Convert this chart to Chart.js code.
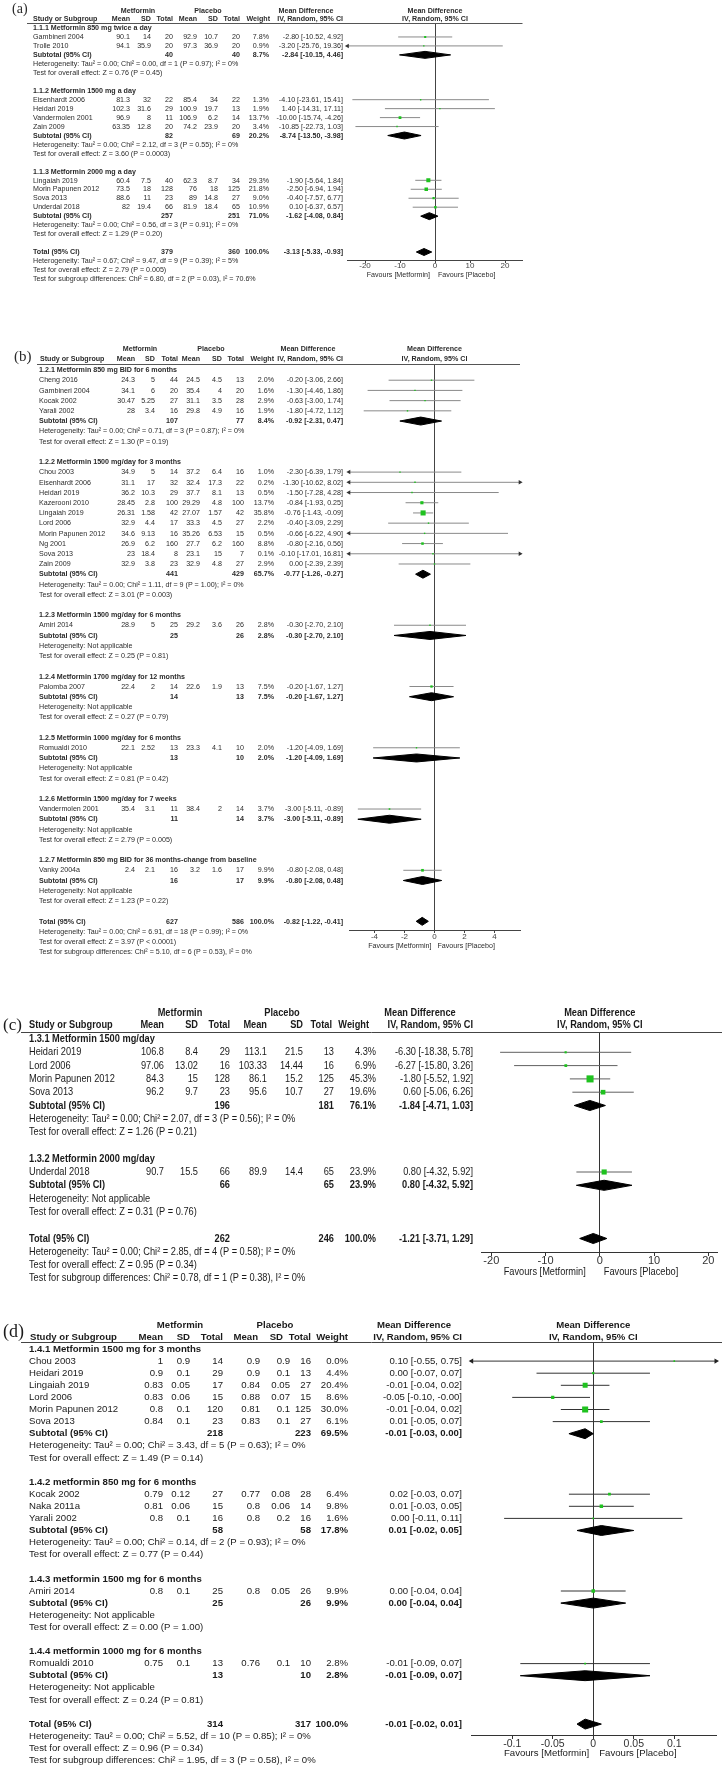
<!DOCTYPE html>
<html>
<head>
<meta charset="utf-8">
<script src="https://cdn.jsdelivr.net/npm/chart.js@4.4.0/dist/chart.umd.min.js"></script>
<style>
  body { margin: 0; background: #fff; }
  #wrap { position: relative; width: 722px; height: 1768px; overflow: hidden; background: #fff; }
  #wrap canvas { position: absolute; left: 0; }
</style>
</head>
<body>
<div id="wrap">
  <canvas id="pa" width="722" height="292" style="top:0px"></canvas>
  <canvas id="pb" width="722" height="630" style="top:335px"></canvas>
  <canvas id="pc" width="722" height="300" style="top:1000px"></canvas>
  <canvas id="pd" width="722" height="458" style="top:1310px"></canvas>
</div>
<script>
// ---------- (a) ----------
const A_GROUPS = ['1.1.1 Metformin 850 mg twice a day', '1.1.2 Metformin 1500 mg a day', '1.1.3 Metformin 2000 mg a day'];
const A_STUDY = ['Gambineri 2004', 'Trolle 2010', 'Eisenhardt 2006', 'Heidari 2019', 'Vandermolen 2001', 'Zain 2009', 'Lingaiah 2019', 'Morin Papunen 2012', 'Sova 2013', 'Underdal 2018'];
const A_GRP = [0, 0, 1, 1, 1, 1, 2, 2, 2, 2];
const A_MET_MEAN = [90.1, 94.1, 81.3, 102.3, 96.9, 63.35, 60.4, 73.5, 88.6, 82];
const A_MET_SD = [14, 35.9, 32, 31.6, 8, 12.8, 7.5, 18, 11, 19.4];
const A_MET_N = [20, 20, 22, 29, 11, 20, 40, 128, 23, 66];
const A_PLA_MEAN = [92.9, 97.3, 85.4, 100.9, 106.9, 74.2, 62.3, 76, 89, 81.9];
const A_PLA_SD = [10.7, 36.9, 34, 19.7, 6.2, 23.9, 8.7, 18, 14.8, 18.4];
const A_PLA_N = [20, 20, 22, 13, 14, 20, 34, 125, 27, 65];
const A_WEIGHT = [7.8, 0.9, 1.3, 1.9, 13.7, 3.4, 29.3, 21.8, 9.0, 10.9];
const A_MD = [-2.80, -3.20, -4.10, 1.40, -10.00, -10.85, -1.90, -2.50, -0.40, 0.10];
const A_LO = [-10.52, -25.76, -23.61, -14.31, -15.74, -22.73, -5.64, -6.94, -7.57, -6.37];
const A_HI = [4.92, 19.36, 15.41, 17.11, -4.26, 1.03, 1.84, 1.94, 6.77, 6.57];
// pooled rows: one per subgroup, last one is the overall total
const A_POOL_MET_N = [40, 82, 257, 379];
const A_POOL_PLA_N = [40, 69, 251, 360];
const A_POOL_WEIGHT = [8.7, 20.2, 71.0, 100.0];
const A_POOL_MD = [-2.84, -8.74, -1.62, -3.13];
const A_POOL_LO = [-10.15, -13.50, -4.08, -5.33];
const A_POOL_HI = [4.46, -3.98, 0.84, -0.93];
const A_HET = ['Tau² = 0.00; Chi² = 0.00, df = 1 (P = 0.97); I² = 0%', 'Tau² = 0.00; Chi² = 2.12, df = 3 (P = 0.55); I² = 0%',
  'Tau² = 0.00; Chi² = 0.56, df = 3 (P = 0.91); I² = 0%', 'Tau² = 0.67; Chi² = 9.47, df = 9 (P = 0.39); I² = 5%'];
const A_Z = ['Z = 0.76 (P = 0.45)', 'Z = 3.60 (P = 0.0003)', 'Z = 1.29 (P = 0.20)', 'Z = 2.79 (P = 0.005)'];
const A_SUBGROUP_TEST = 'Chi² = 6.80, df = 2 (P = 0.03), I² = 70.6%';
const A_TICKS = [-20, -10, 0, 10, 20];
const A_TICK_LABELS = ['-20', '-10', '0', '10', '20'];

// ---------- (b) ----------
const B_GROUPS = ['1.2.1 Metformin 850 mg BID for 6 months', '1.2.2 Metformin 1500 mg/day for 3 months', '1.2.3 Metformin 1500 mg/day for 6 months',
  '1.2.4 Metformin 1700 mg/day for 12 months', '1.2.5 Metformin 1000 mg/day for 6 months', '1.2.6 Metformin 1500 mg/day for 7 weeks',
  '1.2.7 Metformin 850 mg BID for 36 months-change from baseline'];
const B_STUDY = ['Cheng 2016', 'Gambineri 2004', 'Kocak 2002', 'Yarali 2002', 'Chou 2003', 'Eisenhardt 2006', 'Heidari 2019', 'Kazerooni 2010',
  'Lingaiah 2019', 'Lord 2006', 'Morin Papunen 2012', 'Ng 2001', 'Sova 2013', 'Zain 2009', 'Amiri 2014', 'Palomba 2007', 'Romualdi 2010',
  'Vandermolen 2001', 'Vanky 2004a'];
const B_GRP = [0, 0, 0, 0, 1, 1, 1, 1, 1, 1, 1, 1, 1, 1, 2, 3, 4, 5, 6];
const B_MET_MEAN = [24.3, 34.1, 30.47, 28, 34.9, 31.1, 36.2, 28.45, 26.31, 32.9, 34.6, 26.9, 23, 32.9, 28.9, 22.4, 22.1, 35.4, 2.4];
const B_MET_SD = [5, 6, 5.25, 3.4, 5, 17, 10.3, 2.8, 1.58, 4.4, 9.13, 6.2, 18.4, 3.8, 5, 2, 2.52, 3.1, 2.1];
const B_MET_N = [44, 20, 27, 16, 14, 32, 29, 100, 42, 17, 16, 160, 8, 23, 25, 14, 13, 11, 16];
const B_PLA_MEAN = [24.5, 35.4, 31.1, 29.8, 37.2, 32.4, 37.7, 29.29, 27.07, 33.3, 35.26, 27.7, 23.1, 32.9, 29.2, 22.6, 23.3, 38.4, 3.2];
const B_PLA_SD = [4.5, 4, 3.5, 4.9, 6.4, 17.3, 8.1, 4.8, 1.57, 4.5, 6.53, 6.2, 15, 4.8, 3.6, 1.9, 4.1, 2, 1.6];
const B_PLA_N = [13, 20, 28, 16, 16, 22, 13, 100, 42, 27, 15, 160, 7, 27, 26, 13, 10, 14, 17];
const B_WEIGHT = [2.0, 1.6, 2.9, 1.9, 1.0, 0.2, 0.5, 13.7, 35.8, 2.2, 0.5, 8.8, 0.1, 2.9, 2.8, 7.5, 2.0, 3.7, 9.9];
const B_MD = [-0.20, -1.30, -0.63, -1.80, -2.30, -1.30, -1.50, -0.84, -0.76, -0.40, -0.66, -0.80, -0.10, 0.00, -0.30, -0.20, -1.20, -3.00, -0.80];
const B_LO = [-3.06, -4.46, -3.00, -4.72, -6.39, -10.62, -7.28, -1.93, -1.43, -3.09, -6.22, -2.16, -17.01, -2.39, -2.70, -1.67, -4.09, -5.11, -2.08];
const B_HI = [2.66, 1.86, 1.74, 1.12, 1.79, 8.02, 4.28, 0.25, -0.09, 2.29, 4.90, 0.56, 16.81, 2.39, 2.10, 1.27, 1.69, -0.89, 0.48];
const B_POOL_MET_N = [107, 441, 25, 14, 13, 11, 16, 627];
const B_POOL_PLA_N = [77, 429, 26, 13, 10, 14, 17, 586];
const B_POOL_WEIGHT = [8.4, 65.7, 2.8, 7.5, 2.0, 3.7, 9.9, 100.0];
const B_POOL_MD = [-0.92, -0.77, -0.30, -0.20, -1.20, -3.00, -0.80, -0.82];
const B_POOL_LO = [-2.31, -1.26, -2.70, -1.67, -4.09, -5.11, -2.08, -1.22];
const B_POOL_HI = [0.47, -0.27, 2.10, 1.27, 1.69, -0.89, 0.48, -0.41];
const B_HET = ['Tau² = 0.00; Chi² = 0.71, df = 3 (P = 0.87); I² = 0%', 'Tau² = 0.00; Chi² = 1.11, df = 9 (P = 1.00); I² = 0%',
  'Not applicable', 'Not applicable', 'Not applicable', 'Not applicable', 'Not applicable',
  'Tau² = 0.00; Chi² = 6.91, df = 18 (P = 0.99); I² = 0%'];
const B_Z = ['Z = 1.30 (P = 0.19)', 'Z = 3.01 (P = 0.003)', 'Z = 0.25 (P = 0.81)', 'Z = 0.27 (P = 0.79)', 'Z = 0.81 (P = 0.42)',
  'Z = 2.79 (P = 0.005)', 'Z = 1.23 (P = 0.22)', 'Z = 3.97 (P < 0.0001)'];
const B_SUBGROUP_TEST = 'Chi² = 5.10, df = 6 (P = 0.53), I² = 0%';
const B_TICKS = [-4, -2, 0, 2, 4];
const B_TICK_LABELS = ['-4', '-2', '0', '2', '4'];

// ---------- (c) ----------
const C_GROUPS = ['1.3.1 Metformin 1500 mg/day', '1.3.2 Metformin 2000 mg/day'];
const C_STUDY = ['Heidari 2019', 'Lord 2006', 'Morin Papunen 2012', 'Sova 2013', 'Underdal 2018'];
const C_GRP = [0, 0, 0, 0, 1];
const C_MET_MEAN = [106.8, 97.06, 84.3, 96.2, 90.7];
const C_MET_SD = [8.4, 13.02, 15, 9.7, 15.5];
const C_MET_N = [29, 16, 128, 23, 66];
const C_PLA_MEAN = [113.1, 103.33, 86.1, 95.6, 89.9];
const C_PLA_SD = [21.5, 14.44, 15.2, 10.7, 14.4];
const C_PLA_N = [13, 16, 125, 27, 65];
const C_WEIGHT = [4.3, 6.9, 45.3, 19.6, 23.9];
const C_MD = [-6.30, -6.27, -1.80, 0.60, 0.80];
const C_LO = [-18.38, -15.80, -5.52, -5.06, -4.32];
const C_HI = [5.78, 3.26, 1.92, 6.26, 5.92];
const C_POOL_MET_N = [196, 66, 262];
const C_POOL_PLA_N = [181, 65, 246];
const C_POOL_WEIGHT = [76.1, 23.9, 100.0];
const C_POOL_MD = [-1.84, 0.80, -1.21];
const C_POOL_LO = [-4.71, -4.32, -3.71];
const C_POOL_HI = [1.03, 5.92, 1.29];
const C_HET = ['Tau² = 0.00; Chi² = 2.07, df = 3 (P = 0.56); I² = 0%', 'Not applicable', 'Tau² = 0.00; Chi² = 2.85, df = 4 (P = 0.58); I² = 0%'];
const C_Z = ['Z = 1.26 (P = 0.21)', 'Z = 0.31 (P = 0.76)', 'Z = 0.95 (P = 0.34)'];
const C_SUBGROUP_TEST = 'Chi² = 0.78, df = 1 (P = 0.38), I² = 0%';
const C_TICKS = [-20, -10, 0, 10, 20];
const C_TICK_LABELS = ['-20', '-10', '0', '10', '20'];

// ---------- (d) ----------
const D_GROUPS = ['1.4.1 Metformin 1500 mg for 3 months', '1.4.2 metformin 850 mg for 6 months', '1.4.3 metformin 1500 mg for 6 months', '1.4.4 metformin 1000 mg for 6 months'];
const D_STUDY = ['Chou 2003', 'Heidari 2019', 'Lingaiah 2019', 'Lord 2006', 'Morin Papunen 2012', 'Sova 2013', 'Kocak 2002', 'Naka 2011a', 'Yarali 2002', 'Amiri 2014', 'Romualdi 2010'];
const D_GRP = [0, 0, 0, 0, 0, 0, 1, 1, 1, 2, 3];
const D_MET_MEAN = [1, 0.9, 0.83, 0.83, 0.8, 0.84, 0.79, 0.81, 0.8, 0.8, 0.75];
const D_MET_SD = [0.9, 0.1, 0.05, 0.06, 0.1, 0.1, 0.12, 0.06, 0.1, 0.1, 0.1];
const D_MET_N = [14, 29, 17, 15, 120, 23, 27, 15, 16, 25, 13];
const D_PLA_MEAN = [0.9, 0.9, 0.84, 0.88, 0.81, 0.83, 0.77, 0.8, 0.8, 0.8, 0.76];
const D_PLA_SD = [0.9, 0.1, 0.05, 0.07, 0.1, 0.1, 0.08, 0.06, 0.2, 0.05, 0.1];
const D_PLA_N = [16, 13, 27, 15, 125, 27, 28, 14, 16, 26, 10];
const D_WEIGHT = [0.0, 4.4, 20.4, 8.6, 30.0, 6.1, 6.4, 9.8, 1.6, 9.9, 2.8];
const D_MD = [0.10, 0.00, -0.01, -0.05, -0.01, 0.01, 0.02, 0.01, 0.00, 0.00, -0.01];
const D_LO = [-0.55, -0.07, -0.04, -0.10, -0.04, -0.05, -0.03, -0.03, -0.11, -0.04, -0.09];
const D_HI = [0.75, 0.07, 0.02, -0.004, 0.02, 0.07, 0.07, 0.05, 0.11, 0.04, 0.07];
const D_POOL_MET_N = [218, 58, 25, 13, 314];
const D_POOL_PLA_N = [223, 58, 26, 10, 317];
const D_POOL_WEIGHT = [69.5, 17.8, 9.9, 2.8, 100.0];
const D_POOL_MD = [-0.01, 0.01, 0.00, -0.01, -0.01];
const D_POOL_LO = [-0.03, -0.02, -0.04, -0.09, -0.02];
const D_POOL_HI = [0.00, 0.05, 0.04, 0.07, 0.01];
const D_HET = ['Tau² = 0.00; Chi² = 3.43, df = 5 (P = 0.63); I² = 0%', 'Tau² = 0.00; Chi² = 0.14, df = 2 (P = 0.93); I² = 0%',
  'Not applicable', 'Not applicable', 'Tau² = 0.00; Chi² = 5.52, df = 10 (P = 0.85); I² = 0%'];
const D_Z = ['Z = 1.49 (P = 0.14)', 'Z = 0.77 (P = 0.44)', 'Z = 0.00 (P = 1.00)', 'Z = 0.24 (P = 0.81)', 'Z = 0.96 (P = 0.34)'];
const D_SUBGROUP_TEST = 'Chi² = 1.95, df = 3 (P = 0.58), I² = 0%';
const D_TICKS = [-0.1, -0.05, 0, 0.05, 0.1];
const D_TICK_LABELS = ['-0.1', '-0.05', '0', '0.05', '0.1'];

const SANS = '"Liberation Sans", Arial, sans-serif';
const SERIF = '"Liberation Serif", "Times New Roman", serif';

function ciText(md, lo, hi) {
  return md.toFixed(2) + ' [' + lo.toFixed(2) + ', ' + hi.toFixed(2) + ']';
}

// one forest plot panel: marks through chart.js, the table text through a plugin that reads the y scale
function makeForest(id, d, L) {
  const rows = [], squares = [], whiskers = [], arrows = [], diamonds = [];
  const nG = d.groups.length;
  let line = 0;

  function pooled(k) {
    const ln = line++;
    rows.push({ line: ln, kind: 'pool', k: k });
    diamonds.push([
      { x: d.poolLo[k], y: ln }, { x: d.poolMd[k], y: ln - L.dia },
      { x: d.poolHi[k], y: ln }, { x: d.poolMd[k], y: ln + L.dia },
      { x: d.poolLo[k], y: ln }
    ]);
  }

  for (let g = 0; g < nG; g++) {
    rows.push({ line: line++, kind: 'group', text: d.groups[g] });
    d.study.forEach((s, i) => {
      if (d.grp[i] !== g) return;
      const ln = line++;
      rows.push({ line: ln, kind: 'study', i: i });
      squares.push({ x: d.md[i], y: ln, w: d.weight[i] });
      whiskers.push({ x: d.lo[i], y: ln }, { x: d.hi[i], y: ln }, { x: d.hi[i], y: null });
      if (d.lo[i] < L.xMin) arrows.push({ x: L.xMin, y: ln, rot: -90 });
      if (d.hi[i] > L.xMax) arrows.push({ x: L.xMax, y: ln, rot: 90 });
    });
    pooled(g);
    rows.push({ line: line++, kind: 'text', text: 'Heterogeneity: ' + d.het[g] });
    rows.push({ line: line++, kind: 'text', text: 'Test for overall effect: ' + d.z[g] });
    line++;
  }
  pooled(nG);
  rows.push({ line: line++, kind: 'text', text: 'Heterogeneity: ' + d.het[nG] });
  rows.push({ line: line++, kind: 'text', text: 'Test for overall effect: ' + d.z[nG] });
  rows.push({ line: line++, kind: 'text', text: 'Test for subgroup differences: ' + d.subgroupTest });

  const yMin = (L.headY - L.line0) / L.lineH;
  const yMax = (L.axisY - L.line0) / L.lineH;
  const canvas = document.getElementById(id);
  const H = canvas.height;

  const table = {
    id: 'table',
    afterDraw(chart) {
      const ctx = chart.ctx, ca = chart.chartArea;
      const Y = v => chart.scales.y.getPixelForValue(v);
      const zero = chart.scales.x.getPixelForValue(0);
      function put(s, x, y, align, bold, size, family) {
        ctx.save();
        ctx.font = (bold ? 'bold ' : '') + (size || L.fs) + 'px ' + (family || SANS);
        ctx.fillStyle = L.ink;
        ctx.textAlign = align;
        ctx.textBaseline = 'middle';
        ctx.translate(x, y);
        ctx.scale(family ? 1 : L.sx, 1);
        ctx.fillText(s, 0, 0);
        ctx.restore();
      }
      const c = L.cols, hc = L.headCols;
      put(L.label, L.labX, L.labY, 'left', false, L.labFs, SERIF);
      const gy = Y(L.gLine), hy = Y(L.hLine);
      put('Metformin', L.cMet, gy, 'center', true);
      put('Placebo', L.cPla, gy, 'center', true);
      put('Mean Difference', L.cMD, gy, 'center', true);
      put('Mean Difference', zero, gy, 'center', true);
      put('Study or Subgroup', L.x0h, hy, 'left', true);
      ['Mean', 'SD', 'Total', 'Mean', 'SD', 'Total', 'Weight', 'IV, Random, 95% CI']
        .forEach((h, j) => put(h, hc[j], hy, 'right', true));
      put('IV, Random, 95% CI', zero, hy, 'center', true);
      // rule under the header
      ctx.save();
      ctx.strokeStyle = L.rule;
      ctx.lineWidth = 1;
      ctx.beginPath();
      const ry = Math.round(ca.top) + 0.5;
      ctx.moveTo(L.ruleL, ry);
      ctx.lineTo(L.ruleR, ry);
      ctx.stroke();
      ctx.restore();

      rows.forEach(r => {
        const y = Y(r.line);
        if (r.kind === 'group') put(r.text, L.x0, y, 'left', true);
        else if (r.kind === 'text') put(r.text, L.x0, y, 'left', false);
        else if (r.kind === 'study') {
          const i = r.i;
          put(d.study[i], L.x0, y, 'left', false);
          [d.metMean[i], d.metSd[i], d.metN[i], d.plaMean[i], d.plaSd[i], d.plaN[i]].forEach((v, j) => put(String(v), c[j], y, 'right', false));
          put(d.weight[i].toFixed(1) + '%', c[6], y, 'right', false);
          put(ciText(d.md[i], d.lo[i], d.hi[i]), c[7], y, 'right', false);
        } else if (r.kind === 'pool') {
          const k = r.k;
          put(k < nG ? 'Subtotal (95% CI)' : 'Total (95% CI)', L.x0, y, 'left', true);
          put(String(d.poolMetN[k]), c[2], y, 'right', true);
          put(String(d.poolPlaN[k]), c[5], y, 'right', true);
          put(d.poolWeight[k].toFixed(1) + '%', c[6], y, 'right', true);
          put(ciText(d.poolMd[k], d.poolLo[k], d.poolHi[k]), c[7], y, 'right', true);
        }
      });
      const fy = ca.bottom + L.favDy;
      put('Favours [Metformin]', zero - L.favGapL, fy, 'right', false);
      put('Favours [Placebo]', zero + L.favGapR, fy, 'left', false);
    }
  };

  const datasets = [
    {
      type: 'scatter', data: squares, order: 0,
      pointStyle: 'rect', borderWidth: 0, backgroundColor: L.square,
      pointRadius: ctx => Math.max(L.sqMin, L.sq * Math.sqrt(ctx.raw ? ctx.raw.w : 0)) / Math.SQRT2
    },
    {
      type: 'scatter', data: arrows, order: 1, clip: false,
      pointStyle: 'triangle', pointRadius: L.arrowR, borderWidth: 0,
      backgroundColor: L.arrow, rotation: ctx => (ctx.raw ? ctx.raw.rot : 0)
    },
    {
      type: 'line', data: whiskers, order: 3, borderColor: L.ci, borderWidth: 1,
      pointRadius: 0, spanGaps: false, fill: false, tension: 0
    }
  ];
  diamonds.forEach(pts => datasets.push({
    type: 'line', data: pts, order: 2, borderColor: '#000', backgroundColor: '#000',
    borderWidth: 1, pointRadius: 0, fill: 'shape', tension: 0
  }));

  return new Chart(canvas, {
    type: 'scatter',
    data: { datasets: datasets },
    options: {
      responsive: false,
      maintainAspectRatio: false,
      devicePixelRatio: 1,
      animation: false,
      events: [],
      layout: { padding: { left: L.plotL, right: 722 - L.plotR, top: L.headY, bottom: H - L.axisY - L.axisH } },
      plugins: { legend: { display: false }, tooltip: { enabled: false }, title: { display: false } },
      scales: {
        x: {
          type: 'linear', position: 'bottom', min: L.xMin, max: L.xMax,
          afterBuildTicks: s => { s.ticks = d.ticks.map(v => ({ value: v })); },
          afterFit: s => { s.height = L.axisH; },
          ticks: {
            autoSkip: false, maxRotation: 0, color: L.tickInk,
            font: { family: SANS, size: L.tickFs },
            padding: L.tickDy - L.tickLen - L.tickFs * 0.6,
            callback: (v, i) => d.tickLabels[i]
          },
          grid: {
            color: ctx => (ctx.tick && ctx.tick.value === 0) ? L.axis : 'rgba(0,0,0,0)',
            tickColor: L.axis, tickLength: L.tickLen, lineWidth: 1
          },
          border: { display: true, color: L.axis, width: 1 }
        },
        y: { type: 'linear', display: false, reverse: true, min: yMin, max: yMax }
      }
    },
    plugins: [table]
  });
}

makeForest('pa', {
  groups: A_GROUPS, study: A_STUDY, grp: A_GRP, metMean: A_MET_MEAN, metSd: A_MET_SD, metN: A_MET_N,
  plaMean: A_PLA_MEAN, plaSd: A_PLA_SD, plaN: A_PLA_N, weight: A_WEIGHT, md: A_MD, lo: A_LO, hi: A_HI,
  poolMetN: A_POOL_MET_N, poolPlaN: A_POOL_PLA_N, poolWeight: A_POOL_WEIGHT, poolMd: A_POOL_MD, poolLo: A_POOL_LO, poolHi: A_POOL_HI,
  het: A_HET, z: A_Z, subgroupTest: A_SUBGROUP_TEST, ticks: A_TICKS, tickLabels: A_TICK_LABELS
}, {
  plotL: 347.5, plotR: 522.5, xMin: -25, xMax: 25,
  line0: 28, lineH: 8.96, headY: 23, axisY: 260, axisH: 30,
  gLine: -1.9, hLine: -1.0, dia: 0.39,
  fs: 8, sx: 0.89, ink: '#2b2b2b',
  x0: 33, x0h: 33, cols: [130, 151, 173, 197, 218, 240, 269, 343],
  headCols: [130, 151, 173, 197, 218, 240, 270, 343],
  cMet: 138, cPla: 208, cMD: 306,
  ruleL: 27, ruleR: 522.5, rule: '#555',
  label: '(a)', labX: 12, labY: 9, labFs: 14,
  favDy: 15, favGapL: 5, favGapR: 3,
  tickFs: 8, tickLen: 3, tickDy: 6, tickInk: '#444',
  axis: '#444', ci: '#8a8a8a', square: '#1fc21f', arrow: '#333', arrowR: 2.6, sq: 0.75, sqMin: 1.4
});

makeForest('pb', {
  groups: B_GROUPS, study: B_STUDY, grp: B_GRP, metMean: B_MET_MEAN, metSd: B_MET_SD, metN: B_MET_N,
  plaMean: B_PLA_MEAN, plaSd: B_PLA_SD, plaN: B_PLA_N, weight: B_WEIGHT, md: B_MD, lo: B_LO, hi: B_HI,
  poolMetN: B_POOL_MET_N, poolPlaN: B_POOL_PLA_N, poolWeight: B_POOL_WEIGHT, poolMd: B_POOL_MD, poolLo: B_POOL_LO, poolHi: B_POOL_HI,
  het: B_HET, z: B_Z, subgroupTest: B_SUBGROUP_TEST, ticks: B_TICKS, tickLabels: B_TICK_LABELS
}, {
  plotL: 349, plotR: 520, xMin: -5.7, xMax: 5.7,
  line0: 35, lineH: 10.21, headY: 29, axisY: 595, axisH: 30,
  gLine: -2.06, hLine: -1.08, dia: 0.39,
  fs: 8, sx: 0.89, ink: '#2b2b2b',
  x0: 39, x0h: 40, cols: [135, 155, 178, 200, 222, 244, 274, 343],
  headCols: [135, 155, 178, 200, 222, 244, 274, 343],
  cMet: 140, cPla: 211, cMD: 308,
  ruleL: 37, ruleR: 520, rule: '#555',
  label: '(b)', labX: 14, labY: 22, labFs: 15,
  favDy: 16, favGapL: 3, favGapR: 3,
  tickFs: 8, tickLen: 3, tickDy: 7, tickInk: '#444',
  axis: '#444', ci: '#8a8a8a', square: '#1fc21f', arrow: '#333', arrowR: 2.6, sq: 0.85, sqMin: 1.4
});

makeForest('pc', {
  groups: C_GROUPS, study: C_STUDY, grp: C_GRP, metMean: C_MET_MEAN, metSd: C_MET_SD, metN: C_MET_N,
  plaMean: C_PLA_MEAN, plaSd: C_PLA_SD, plaN: C_PLA_N, weight: C_WEIGHT, md: C_MD, lo: C_LO, hi: C_HI,
  poolMetN: C_POOL_MET_N, poolPlaN: C_POOL_PLA_N, poolWeight: C_POOL_WEIGHT, poolMd: C_POOL_MD, poolLo: C_POOL_LO, poolHi: C_POOL_HI,
  het: C_HET, z: C_Z, subgroupTest: C_SUBGROUP_TEST, ticks: C_TICKS, tickLabels: C_TICK_LABELS
}, {
  plotL: 481, plotR: 719, xMin: -21.9, xMax: 21.6,
  line0: 39, lineH: 13.3, headY: 32, axisY: 252, axisH: 30,
  gLine: -1.95, hLine: -1.05, dia: 0.38,
  fs: 11, sx: 0.84, ink: '#1a1a1a',
  x0: 29, x0h: 29, cols: [164, 198, 230, 267, 303, 334, 376, 473],
  headCols: [164, 198, 230, 267, 303, 332, 369, 473],
  cMet: 180, cPla: 282, cMD: 420,
  ruleL: 21, ruleR: 722, rule: '#444',
  label: '(c)', labX: 3, labY: 26, labFs: 17,
  favDy: 20, favGapL: 14, favGapR: 4,
  tickFs: 11, tickLen: 4, tickDy: 9, tickInk: '#333',
  axis: '#333', ci: '#606060', square: '#1fc21f', arrow: '#222', arrowR: 3, sq: 1.05, sqMin: 1.6
});

makeForest('pd', {
  groups: D_GROUPS, study: D_STUDY, grp: D_GRP, metMean: D_MET_MEAN, metSd: D_MET_SD, metN: D_MET_N,
  plaMean: D_PLA_MEAN, plaSd: D_PLA_SD, plaN: D_PLA_N, weight: D_WEIGHT, md: D_MD, lo: D_LO, hi: D_HI,
  poolMetN: D_POOL_MET_N, poolPlaN: D_POOL_PLA_N, poolWeight: D_POOL_WEIGHT, poolMd: D_POOL_MD, poolLo: D_POOL_LO, poolHi: D_POOL_HI,
  het: D_HET, z: D_Z, subgroupTest: D_SUBGROUP_TEST, ticks: D_TICKS, tickLabels: D_TICK_LABELS
}, {
  plotL: 471.7, plotR: 716, xMin: -0.15, xMax: 0.1515,
  line0: 39, lineH: 12.1, headY: 32, axisY: 425, axisH: 30,
  gLine: -1.98, hLine: -1.0, dia: 0.41,
  fs: 9.6, sx: 1, ink: '#1a1a1a',
  x0: 29, x0h: 30, cols: [163, 190, 223, 260, 290, 311, 348, 462],
  headCols: [163, 190, 223, 258, 283, 311, 348, 462],
  cMet: 180, cPla: 275, cMD: 414,
  ruleL: 21, ruleR: 722, rule: '#444',
  label: '(d)', labX: 3, labY: 22, labFs: 18,
  favDy: 18, favGapL: 4, favGapR: 6,
  tickFs: 10.5, tickLen: 4, tickDy: 9, tickInk: '#333',
  axis: '#333', ci: '#333', square: '#1fc21f', arrow: '#222', arrowR: 3, sq: 1.1, sqMin: 1.6
});
</script>
</body>
</html>
